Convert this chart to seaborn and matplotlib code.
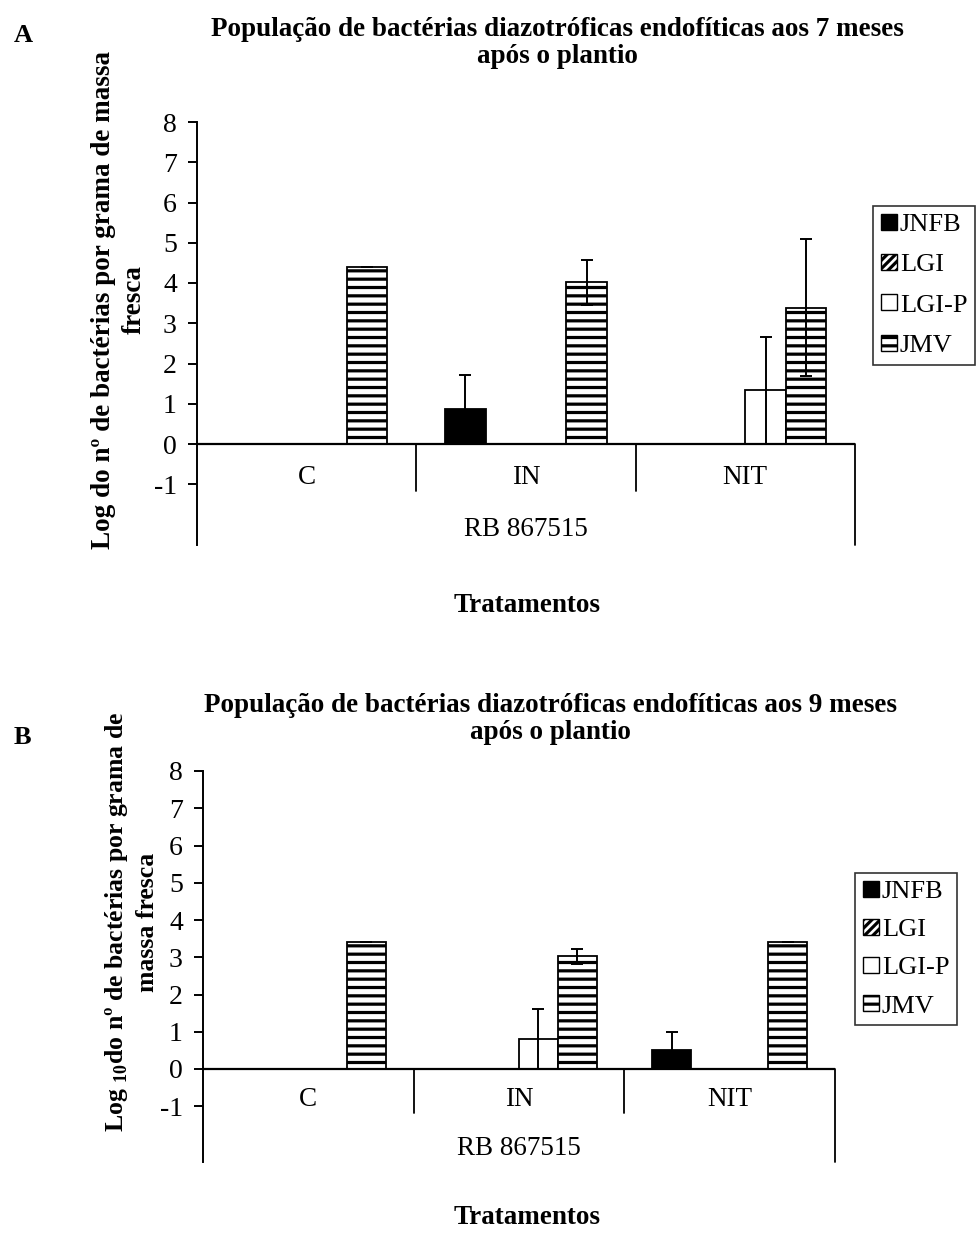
import matplotlib
matplotlib.use("Agg")
import matplotlib.pyplot as plt
from matplotlib.patches import Patch
import numpy as np
import pandas as pd
import seaborn as sns

# ---- data -------------------------------------------------------------
treatments = ["C", "IN", "NIT"]
strains = ["JNFB", "LGI", "LGI-P", "JMV"]
cultivar = "RB 867515"

# 7 months after planting (log bacteria per g fresh mass)
jnfb_7 = [0.0, 0.86, 0.0]
lgi_7 = [0.0, 0.0, 0.0]
lgip_7 = [0.0, 0.0, 1.33]
jmv_7 = [4.40, 4.02, 3.39]
jnfb_7_err = [0.0, 0.85, 0.0]
lgi_7_err = [0.0, 0.0, 0.0]
lgip_7_err = [0.0, 0.0, 1.33]
jmv_7_err = [0.0, 0.56, 1.71]

# 9 months after planting
jnfb_9 = [0.0, 0.0, 0.50]
lgi_9 = [0.0, 0.0, 0.0]
lgip_9 = [0.0, 0.81, 0.0]
jmv_9 = [3.40, 3.03, 3.40]
jnfb_9_err = [0.0, 0.0, 0.50]
lgi_9_err = [0.0, 0.0, 0.0]
lgip_9_err = [0.0, 0.80, 0.0]
jmv_9_err = [0.0, 0.20, 0.0]

yticks = list(range(-1, 9))

title_7 = "População de bactérias diazotróficas endofíticas aos 7 meses\napós o plantio"
title_9 = "População de bactérias diazotróficas endofíticas aos 9 meses\napós o plantio"
ylabel_7 = "Log do nº de bactérias por grama de massa\nfresca"
ylabel_9 = "Log $_{\\mathbf{10}}$do nº de bactérias por grama de\nmassa fresca"
xlabel = "Tratamentos"

# ---- style ------------------------------------------------------------
sns.set_style("ticks")
plt.rcParams["font.family"] = ["Liberation Serif", "DejaVu Serif"]
plt.rcParams["mathtext.fontset"] = "custom"
plt.rcParams["mathtext.rm"] = "Liberation Serif"
plt.rcParams["mathtext.bf"] = "Liberation Serif:bold"
plt.rcParams["axes.unicode_minus"] = False
plt.rcParams["hatch.linewidth"] = 2.3
for key in ("text.color", "axes.labelcolor", "xtick.color", "ytick.color",
            "axes.edgecolor"):
    plt.rcParams[key] = "black"

FS = 19.5  # general text size (pt)

bar_styles = {
    "JNFB": dict(facecolor="black", hatch=None),
    "LGI": dict(facecolor="white", hatch="////"),
    "LGI-P": dict(facecolor="white", hatch=None),
    "JMV": dict(facecolor="white", hatch="--"),
}

W, H = 976, 1243
fig = plt.figure(figsize=(W / 100, H / 100), dpi=100)


def frame(x0, y8, y0, x1):
    """Axes rect from pixel positions: left edge, y of 8, y of 0, right edge."""
    unit = (y0 - y8) / 8.0
    ybot = y0 + 2.5 * unit
    return [x0 / W, 1 - ybot / H, (x1 - x0) / W, (ybot - y8) / H]


def panel(ax, series, errors):
    df = pd.DataFrame({
        "treatment": np.repeat([treatments], len(strains), axis=0).ravel(),
        "strain": np.repeat(strains, len(treatments)),
        "value": np.concatenate(series),
    })
    sns.barplot(data=df, x="treatment", y="value", hue="strain",
                order=treatments, hue_order=strains, width=0.736,
                errorbar=None, legend=False, ax=ax, color="white")
    for strain, cont, err in zip(strains, ax.containers, errors):
        st = bar_styles[strain]
        for patch, e in zip(cont.patches, err):
            patch.set_facecolor(st["facecolor"])
            patch.set_edgecolor("black")
            patch.set_linewidth(1.3)
            if st["hatch"]:
                patch.set_hatch(st["hatch"])
            h = patch.get_height()
            if h > 0:
                ax.errorbar(patch.get_x() + patch.get_width() / 2, h, yerr=e,
                            fmt="none", ecolor="black", elinewidth=1.4,
                            capsize=4.5, capthick=1.4, zorder=5)

    ax.set_xlim(-0.5, 2.5)
    ax.set_ylim(-2.5, 8)
    ax.set_yticks(yticks)
    ax.set_xticks([])
    ax.set_xlabel("")
    ax.set_ylabel("")
    for s in ("top", "right", "bottom"):
        ax.spines[s].set_visible(False)
    ax.spines["left"].set_linewidth(1.4)
    ax.spines["left"].set_color("black")
    ax.tick_params(axis="y", direction="out", length=6.5, width=1.4,
                   labelsize=FS + 0.5, pad=8, colors="black")

    # multi-level category axis
    ax.axhline(0, color="black", lw=1.6, zorder=6)
    for xd in (0.5, 1.5):
        ax.plot([xd, xd], [0, -1.17], color="black", lw=1.3, clip_on=False)
    ax.plot([2.5, 2.5], [0, -2.5], color="black", lw=1.3, clip_on=False)
    for i, t in enumerate(treatments):
        ax.text(i, -0.82, t, ha="center", va="center", fontsize=FS)
    ax.text(1, -2.13, cultivar, ha="center", va="center", fontsize=FS)


def legend(anchor, spacing):
    handles = [Patch(facecolor=bar_styles[s]["facecolor"], edgecolor="black",
                     hatch=bar_styles[s]["hatch"], linewidth=1.0, label=s)
               for s in strains]
    leg = fig.legend(handles=handles, loc="upper left",
                     bbox_to_anchor=(anchor[0] / W, 1 - anchor[1] / H),
                     frameon=True, fancybox=False, fontsize=19,
                     handlelength=0.6, handleheight=0.55, handletextpad=0.12,
                     labelspacing=spacing, borderpad=0.3, borderaxespad=0)
    leg.get_frame().set_edgecolor("black")
    leg.get_frame().set_linewidth(1.2)


axA = fig.add_axes(frame(197, 122, 444, 855))
panel(axA, [jnfb_7, lgi_7, lgip_7, jmv_7],
      [jnfb_7_err, lgi_7_err, lgip_7_err, jmv_7_err])
legend((873, 206), 0.68)

axB = fig.add_axes(frame(203, 771, 1069, 835))
panel(axB, [jnfb_9, lgi_9, lgip_9, jmv_9],
      [jnfb_9_err, lgi_9_err, lgip_9_err, jmv_9_err])
legend((855, 873), 0.6)

# titles, axis labels, panel letters
fig.text(557 / W, 1 - 43 / H, title_7, ha="center", va="center",
         fontsize=FS, fontweight="bold", linespacing=1.1)
fig.text(550 / W, 1 - 719 / H, title_9, ha="center", va="center",
         fontsize=FS, fontweight="bold", linespacing=1.1)
fig.text(119 / W, 1 - 300 / H, ylabel_7, ha="center", va="center",
         rotation=90, fontsize=FS, fontweight="bold", linespacing=1.3)
fig.text(131 / W, 1 - 922 / H, ylabel_9, ha="center", va="center",
         rotation=90, fontsize=18.5, fontweight="bold", linespacing=1.35)
fig.text(527 / W, 1 - 606 / H, xlabel, ha="center", va="center",
         fontsize=FS, fontweight="bold")
fig.text(527 / W, 1 - 1218 / H, xlabel, ha="center", va="center",
         fontsize=FS, fontweight="bold")
fig.text(14 / W, 1 - 35 / H, "A", ha="left", va="center",
         fontsize=19, fontweight="bold")
fig.text(14 / W, 1 - 738 / H, "B", ha="left", va="center",
         fontsize=19, fontweight="bold")

fig.savefig("out.png", dpi=100, facecolor="white")
